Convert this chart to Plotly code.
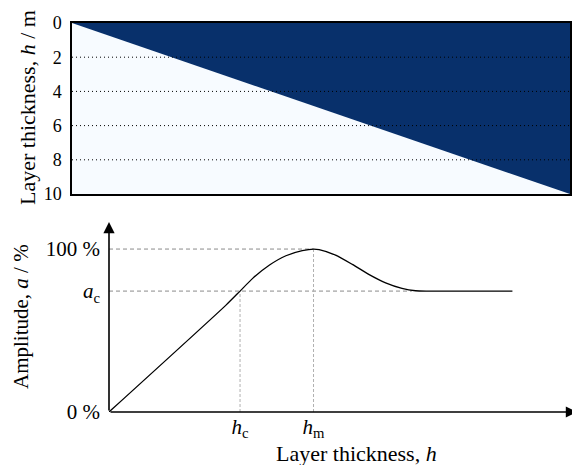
import plotly.graph_objects as go

# ---------------- data ----------------
# top panel: boundary between the two regions (fraction of width -> depth)
top_boundary_x = [0.0, 1.0]
top_boundary_depth = [0.0, 10.0]
top_tick_vals = [0, 2, 4, 6, 8, 10]
top_grid_depths = [2, 4, 6, 8]

# bottom panel: amplitude vs layer thickness (arbitrary units of h)
curve_h = [0.0, 2.50, 2.80, 3.07, 3.43, 3.78, 4.13, 4.37, 4.49, 4.84, 5.20,
           5.55, 5.91, 6.26, 6.55, 6.83, 8.62]
curve_a = [0.0, 65.6, 74.2, 82.0, 90.2, 95.9, 99.0, 100.0, 99.6, 96.3, 90.6,
           84.5, 79.3, 75.9, 74.4, 74.2, 74.2]
h_c = 2.80
h_m = 4.37
a_c = 74.2
a_max = 100.0
h_flat = 6.47
x_axis_end = 10.0
y_axis_end = 116.6

y_tick_vals = [0, a_c, a_max]
y_tick_text = ["0 %", "<i>a</i><sub>c</sub>", "100 %"]
x_tick_vals = [h_c, h_m]
x_tick_text = ["<i>h</i><sub>c</sub>", "<i>h</i><sub>m</sub>"]

DARK = "#08306b"
LIGHT = "#f7fbff"
FONT = "Liberation Serif"

# page body has an 8px margin: figure is placed at (8, 8) in the window
OX, OY = 8, 8
W, H = 572, 457


def px(x):
    return (x - OX) / W


def py(y):
    return 1 - (y - OY) / H


fig = go.Figure()

# top panel: dark region above the diagonal
fig.add_trace(go.Scatter(
    x=top_boundary_x + [top_boundary_x[-1]],
    y=top_boundary_depth + [top_boundary_depth[0]],
    fill="toself", fillcolor=DARK, mode="lines",
    line=dict(width=0, color=DARK), hoverinfo="skip", showlegend=False,
    xaxis="x", yaxis="y"))

# bottom panel: reference lines
fig.add_trace(go.Scatter(x=[0, h_m], y=[a_max, a_max], mode="lines",
                         line=dict(color="#8a8a8a", width=1, dash="4px,3px"),
                         showlegend=False, hoverinfo="skip", xaxis="x2", yaxis="y2"))
fig.add_trace(go.Scatter(x=[0, h_flat], y=[a_c, a_c], mode="lines",
                         line=dict(color="#8a8a8a", width=1, dash="4px,3px"),
                         showlegend=False, hoverinfo="skip", xaxis="x2", yaxis="y2"))
fig.add_trace(go.Scatter(x=[h_c, h_c], y=[0, a_c], mode="lines",
                         line=dict(color="#b0b0b0", width=1, dash="3px,2px"),
                         showlegend=False, hoverinfo="skip", xaxis="x2", yaxis="y2"))
fig.add_trace(go.Scatter(x=[h_m, h_m], y=[0, a_max], mode="lines",
                         line=dict(color="#b0b0b0", width=1, dash="3px,2px"),
                         showlegend=False, hoverinfo="skip", xaxis="x2", yaxis="y2"))

# bottom panel: curve
fig.add_trace(go.Scatter(x=curve_h, y=curve_a, mode="lines",
                         line=dict(color="black", width=1.3, shape="spline", smoothing=0.6),
                         showlegend=False, hoverinfo="skip", xaxis="x2", yaxis="y2"))

shapes = [dict(type="rect", xref="x domain", yref="y domain", x0=0, x1=1, y0=0, y1=1,
               fillcolor=LIGHT, line=dict(width=0), layer="below")]
for d in top_grid_depths:
    shapes.append(dict(type="line", xref="x domain", yref="y", x0=0, x1=1, y0=d, y1=d,
                       line=dict(color="black", width=1, dash="1px,3px"), layer="above"))

annotations = [
    # arrows of the bottom axes
    dict(x=x_axis_end, y=0, ax=0, ay=0, xref="x2", yref="y2", axref="x2", ayref="y2",
         text="", showarrow=True, arrowhead=2, arrowsize=1.4, arrowwidth=1.6, arrowcolor="black"),
    dict(x=0, y=y_axis_end, ax=0, ay=0, xref="x2", yref="y2", axref="x2", ayref="y2",
         text="", showarrow=True, arrowhead=2, arrowsize=1.4, arrowwidth=1.6, arrowcolor="black"),
    # axis titles
    dict(x=px(27), y=py(108), xref="paper", yref="paper", showarrow=False,
         xanchor="center", yanchor="middle",
         text="Layer thickness, <i>h</i> / m", textangle=-90,
         font=dict(family=FONT, size=22, color="black")),
    dict(x=px(21), y=py(317), xref="paper", yref="paper", showarrow=False,
         xanchor="center", yanchor="middle",
         text="Amplitude, <i>a</i> / %", textangle=-90,
         font=dict(family=FONT, size=21, color="black")),
    dict(x=px(356), y=py(453), xref="paper", yref="paper", showarrow=False,
         xanchor="center", yanchor="middle",
         text="Layer thickness, <i>h</i>",
         font=dict(family=FONT, size=22, color="black")),
]

fig.update_layout(
    template="none",
    width=W, height=H, margin=dict(l=0, r=0, t=0, b=0, pad=0),
    paper_bgcolor="white", plot_bgcolor="white",
    showlegend=False, shapes=shapes, annotations=annotations,
    font=dict(family=FONT, color="black"),
    xaxis=dict(domain=[px(72), px(570)], range=[0, 1], showticklabels=False, ticks="",
               showgrid=False, zeroline=False, showline=True, mirror=True,
               linecolor="black", linewidth=1.5, anchor="y", automargin=False),
    yaxis=dict(domain=[py(194), py(23)], range=[10, 0], tickvals=top_tick_vals,
               ticks="", showgrid=False, zeroline=False, showline=True, mirror=True,
               linecolor="black", linewidth=1.5, tickfont=dict(family=FONT, size=18),
               ticklabelstandoff=5, anchor="x", automargin=False),
    xaxis2=dict(domain=[px(109), px(577)], range=[0, x_axis_end], tickvals=x_tick_vals,
                ticktext=x_tick_text, ticks="", showgrid=False, zeroline=False,
                showline=False, tickfont=dict(family=FONT, size=21), anchor="y2",
                automargin=False),
    yaxis2=dict(domain=[py(412), py(222)], range=[0, y_axis_end], tickvals=y_tick_vals,
                ticktext=y_tick_text, ticks="", showgrid=False, zeroline=False,
                showline=False, tickfont=dict(family=FONT, size=21), anchor="x2",
                ticklabelstandoff=8, automargin=False),
)

fig.write_html("out.html")
